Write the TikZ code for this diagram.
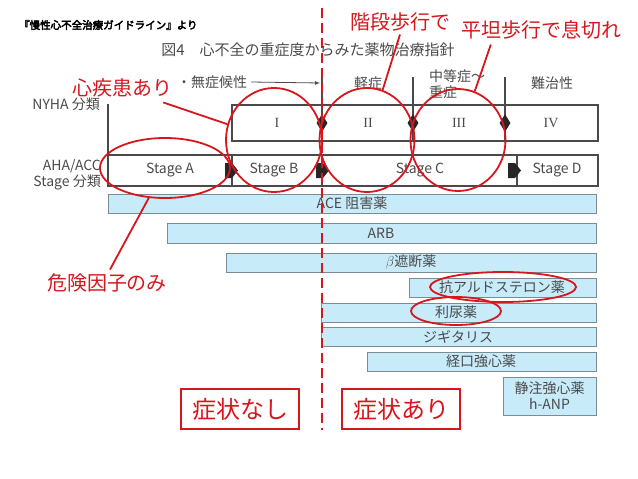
\documentclass[tikz,border=0pt]{standalone}
\usepackage{fontspec}
\setmainfont{Noto Sans CJK JP}
\newfontfamily\boldjp[FakeBold=4]{Noto Sans CJK JP}
\newfontfamily\romanfont{Liberation Serif}
\usetikzlibrary{shapes.geometric}

\definecolor{markred}{HTML}{D7161E}
\definecolor{barblue}{HTML}{C8EBFA}
\definecolor{barline}{HTML}{7C8C94}
\definecolor{figgray}{HTML}{4A4A4A}

\tikzset{
  figtext/.style={text=figgray, inner sep=0pt, font=\fontsize{14}{16}\selectfont},
  bartext/.style={text=figgray, inner sep=0pt, font=\fontsize{14}{16}\selectfont},
  stagetext/.style={text=figgray, inner sep=0pt, font=\fontsize{14}{16}\selectfont},
  numtext/.style={text=figgray, inner sep=0pt, font=\romanfont\fontsize{14}{16}\selectfont},
  boxline/.style={draw=figgray, line width=1.3pt},
  drugbar/.style={fill=barblue, draw=barline, line width=1pt},
  sepmark/.style={diamond, fill=black!85, inner sep=0pt, minimum width=11pt, minimum height=18pt},
  redlabel/.style={text=markred, inner sep=0pt, font=\fontsize{20}{24}\selectfont},
  redbox/.style={draw=markred, line width=1.8pt, text=markred, minimum width=118pt, minimum height=40pt, font=\fontsize{24}{28}\selectfont},
  redring/.style={draw=markred, line width=1.8pt, ellipse, inner sep=0pt},
  redline/.style={draw=markred, line width=1.8pt},
  reddash/.style={draw=markred, line width=2.4pt, dash pattern=on 10pt off 5pt}
}

\begin{document}
\begin{tikzpicture}[x=1pt, y=-1pt]
    \useasboundingbox (0,0) rectangle (638,479);

    % source and title
    \node[anchor=west, inner sep=0pt] (source) at (19,25) {\boldjp\fontsize{10.5}{12}\selectfont 『慢性心不全治療ガイドライン』より};
    \node[text=figgray, inner sep=0pt, font=\fontsize{15}{17}\selectfont] (figtitle) at (308,50) {図4　心不全の重症度からみた薬物治療指針};

    % severity labels
    \node[figtext] (asym) at (212,82) {・無症候性};
    \coordinate (asymend) at (320,83);
    \draw[-latex, figgray, line width=0.8pt] (asym.east) ++(4,0) -- (asymend);
    \node[figtext] (mild) at (368,83) {軽症};
    \node[figtext, align=left] (moderate) at (457,84) {中等症～\\重症};
    \node[figtext] (refractory) at (552,83) {難治性};

    % nyha row
    \node[figtext, anchor=east] (nyha) at (100,104) {NYHA 分類};
    \draw[boxline] (108,104) -- (108,155);
    \draw[boxline] (232,105) rectangle (598,141);
    \draw[boxline] (322,70) -- (322,141);
    \draw[boxline] (413,77) -- (413,141);
    \draw[boxline] (505,77) -- (505,141);
    \node[sepmark] (sepI) at (322,123) {};
    \node[sepmark] (sepII) at (413,123) {};
    \node[sepmark] (sepIII) at (505,123) {};
    \node[numtext] (classI) at (277,123) {I};
    \node[numtext] (classII) at (368,123) {II};
    \node[numtext] (classIII) at (459,123) {III};
    \node[numtext] (classIV) at (551,123) {IV};

    % aha/acc row
    \node[figtext, anchor=east, align=right] (aha) at (101,175) {AHA/ACC\\Stage 分類};
    \draw[boxline] (108,155) rectangle (598,186);
    \draw[boxline] (232,155) -- (232,186);
    \draw[boxline] (322,155) -- (322,186);
    \draw[boxline] (517,155) -- (517,186);
    \foreach \x in {231,322,514}
        \fill[black!85] (\x-6,163) -- (\x+1,163) -- (\x+7,170.5) -- (\x+1,178) -- (\x-6,178) -- cycle;
    \node[stagetext] (stageA) at (170,170) {Stage A};
    \node[stagetext] (stageB) at (274,170) {Stage B};
    \node[stagetext] (stageC) at (420,170) {Stage C};
    \node[stagetext] (stageD) at (557,170) {Stage D};

    % drug bars
    \filldraw[drugbar] (108,194) rectangle (596,213);
    \node[bartext] (ace) at (352,203.5) {ACE 阻害薬};
    \filldraw[drugbar] (167,223) rectangle (596,243);
    \node[bartext] (arb) at (381,233) {ARB};
    \filldraw[drugbar] (226,253) rectangle (596,272);
    \node[bartext] (beta) at (411,262.5) {$\beta$遮断薬};
    \filldraw[drugbar] (409,278) rectangle (596,297);
    \node[bartext] (aldo) at (502,287.5) {抗アルドステロン薬};
    \filldraw[drugbar] (321,303) rectangle (596,322);
    \node[bartext] (diur) at (456,312.5) {利尿薬};
    \filldraw[drugbar] (321,327) rectangle (596,346);
    \node[bartext] (digi) at (458,336.5) {ジギタリス};
    \filldraw[drugbar] (367,352) rectangle (596,371);
    \node[bartext] (oral) at (481,361.5) {経口強心薬};
    \filldraw[drugbar] (503,377) rectangle (596,415);
    \node[bartext, align=center] (ivdrug) at (549.5,396) {静注強心薬\\h-ANP};

    % symptom boundary
    \draw[reddash] (322,8) -- (322,430);

    % red notes
    \node[redbox] (nosym) at (240,409) {症状なし};
    \node[redbox] (sym) at (401,409) {症状あり};
    \node[redlabel] (heart) at (122,88) {心疾患あり};
    \node[redlabel] (stairs) at (400,22) {階段歩行で};
    \node[redlabel] (flat) at (541,30) {平坦歩行で息切れ};
    \node[redlabel] (risk) at (107,283) {危険因子のみ};

    % rings
    \node[redring, minimum width=96pt, minimum height=104pt] (ringI) at (274,140) {};
    \node[redring, minimum width=95pt, minimum height=104pt] (ringII) at (367,140) {};
    \node[redring, minimum width=95pt, minimum height=102pt] (ringIII) at (458,140) {};
    \node[redring, minimum width=130pt, minimum height=60pt] (ringA) at (165,168) {};
    \node[redring, minimum width=146pt, minimum height=30pt] (ringAldo) at (503,287) {};
    \node[redring, minimum width=90pt, minimum height=28pt] (ringDiur) at (456,311) {};

    % pointers
    \draw[redline] ([xshift=-9pt,yshift=-5pt]heart.south east) -- (ringI);
    \draw[redline] ([yshift=-3pt]stairs.south) -- (ringII);
    \draw[redline] ([xshift=30pt,yshift=-5pt]flat.south west) -- (ringIII);
    \draw[redline] ([xshift=3pt,yshift=4pt]risk.north) -- (ringA);

\end{tikzpicture}
\end{document}
